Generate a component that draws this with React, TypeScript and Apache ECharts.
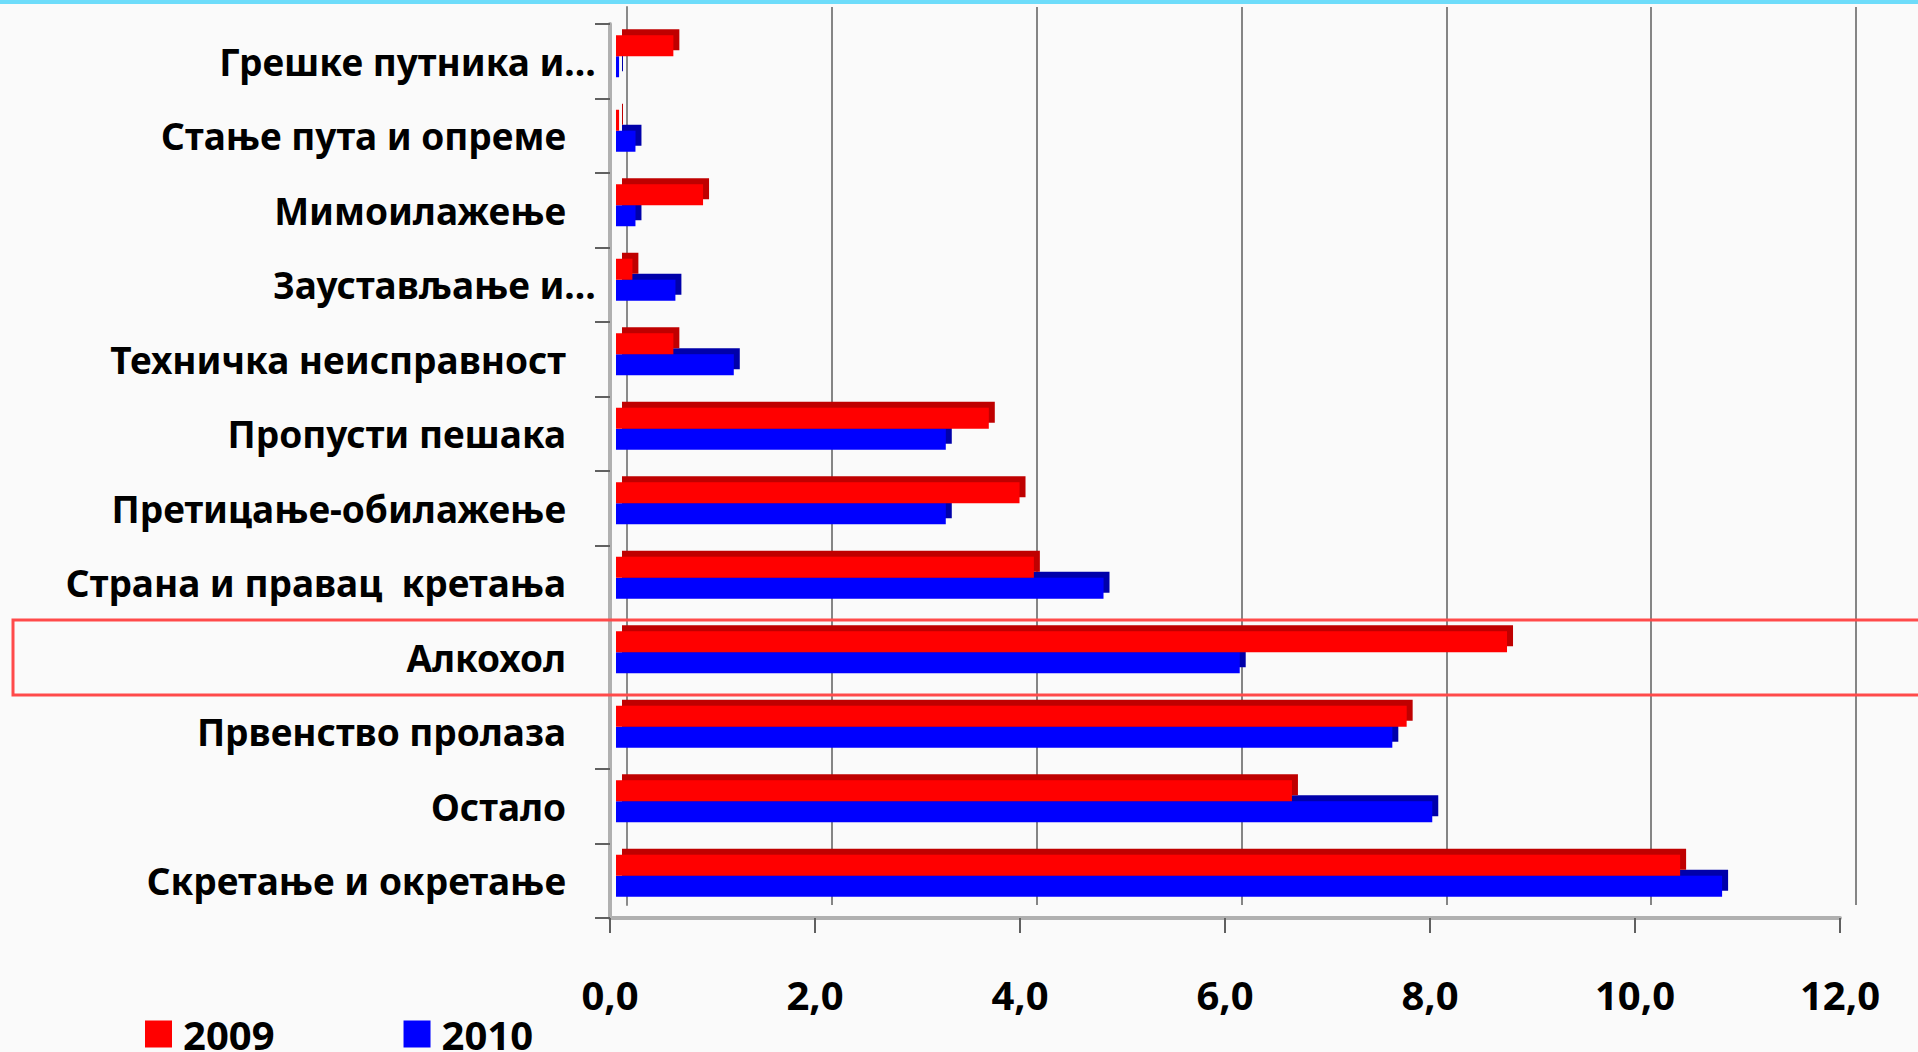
import React, { useEffect, useRef } from "react";
import * as echarts from "echarts";

const categories = [
  "Грешке путника и…",
  "Стање пута и опреме",
  "Мимоилажење",
  "Заустављање и…",
  "Техничка неисправност",
  "Пропусти пешака",
  "Претицање-обилажење",
  "Страна и правац  кретања",
  "Алкохол",
  "Првенство пролаза",
  "Остало",
  "Скретање и окретање",
];
const values2009 = [0.56, 0.03, 0.85, 0.16, 0.56, 3.64, 3.94, 4.08, 8.7, 7.72, 6.6, 10.39];
const values2010 = [0.03, 0.19, 0.19, 0.58, 1.15, 3.22, 3.22, 4.76, 6.09, 7.58, 7.97, 10.8];
const seriesNames = ["2009", "2010"];
const xTickLabels = ["0,0", "2,0", "4,0", "6,0", "8,0", "10,0", "12,0"];

const FONT = "Noto Sans";

export default function App() {
  const ref = useRef<HTMLDivElement>(null);
  useEffect(() => {
    document.body.style.margin = "0";
    const chart = echarts.init(ref.current!, null, { renderer: "svg" });
    const labelFont = { fontFamily: FONT, fontWeight: "bold" as const, color: "#000", fontSize: 37 };
    chart.setOption({
      animation: false,
      backgroundColor: "#fafafa",
      textStyle: { fontFamily: FONT },
      legend: {
        data: seriesNames,
        left: 140,
        top: 1009,
        icon: "rect",
        itemWidth: 27,
        itemHeight: 27,
        itemGap: 129,
        textStyle: { ...labelFont, fontSize: 40, padding: [0, 0, 0, 6] },
      },
      grid: [
        { left: 610, right: 78, top: 24, bottom: 134 },
        { left: 616, right: 73, top: 19, bottom: 139 },
        { left: 627, right: 62, top: 7, bottom: 147 },
      ],
      xAxis: [
        {
          gridIndex: 0,
          type: "value",
          min: 0,
          max: 12,
          interval: 2,
          axisLine: { show: true, lineStyle: { color: "#b0b0b0", width: 4 } },
          axisTick: { show: true, length: 15, lineStyle: { color: "#606060", width: 2 } },
          splitLine: { show: false },
          axisLabel: {
            ...labelFont,
            fontSize: 40,
            margin: 56,
            formatter: (v: number) => xTickLabels[Math.round(v / 2)],
          },
        },
        {
          gridIndex: 1,
          type: "value",
          min: 0,
          max: 12,
          interval: 2,
          show: false,
        },
        {
          gridIndex: 2,
          type: "value",
          min: 0,
          max: 12,
          interval: 2,
          axisLine: { show: false },
          axisTick: { show: false },
          axisLabel: { show: false },
          splitLine: { show: true, lineStyle: { color: "#858585", width: 2 } },
        },
      ],
      yAxis: [
        {
          gridIndex: 0,
          type: "category",
          inverse: true,
          data: categories,
          axisLine: { show: true, lineStyle: { color: "#b0b0b0", width: 4 } },
          axisTick: { show: true, length: 15, interval: 0, lineStyle: { color: "#606060", width: 2 } },
          axisLabel: {
            ...labelFont,
            interval: 0,
            margin: 14,
            formatter: (v: string) => (v.endsWith("…") ? v : "{p|" + v + "}"),
            rich: { p: { ...labelFont, padding: [0, 30, 0, 0] } },
          },
        },
        {
          gridIndex: 1,
          type: "category",
          inverse: true,
          data: categories,
          show: false,
        },
        {
          gridIndex: 2,
          type: "category",
          inverse: true,
          data: categories,
          axisLine: { show: true, lineStyle: { color: "#8a8a8a", width: 2 } },
          axisTick: { show: false },
          axisLabel: { show: false },
          splitLine: { show: false },
        },
      ],
      series: [
        {
          name: seriesNames[0],
          type: "bar",
          xAxisIndex: 1,
          yAxisIndex: 1,
          data: values2009,
          barWidth: 21,
          barGap: "0%",
          z: 4,
          itemStyle: {
            color: "#ff0000",
            shadowColor: "#bf0000",
            shadowBlur: 0,
            shadowOffsetX: 6,
            shadowOffsetY: -6,
          },
        },
        {
          name: seriesNames[1],
          type: "bar",
          xAxisIndex: 1,
          yAxisIndex: 1,
          data: values2010,
          barWidth: 21,
          barGap: "0%",
          z: 3,
          itemStyle: {
            color: "#0000ff",
            shadowColor: "#0000aa",
            shadowBlur: 0,
            shadowOffsetX: 6,
            shadowOffsetY: -6,
          },
        },
      ],
      graphic: [
        { type: "rect", shape: { x: 0, y: 0, width: 1918, height: 4 }, style: { fill: "#6ddcfa" }, z: 10 },
        {
          type: "rect",
          shape: { x: 13, y: 620, width: 1930, height: 75 },
          style: { fill: "none", stroke: "#ff4a4a", lineWidth: 3 },
          z: 10,
        },
      ],
    });
    return () => chart.dispose();
  }, []);
  return <div ref={ref} style={{ width: 1918, height: 1052 }} />;
}
